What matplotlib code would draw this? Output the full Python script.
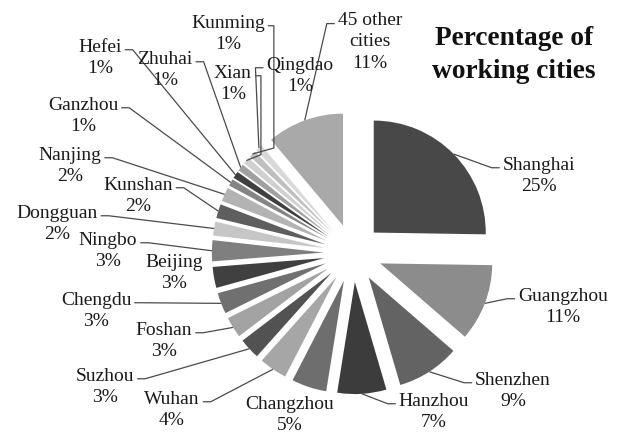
import numpy as np
import matplotlib
matplotlib.use("Agg")
import matplotlib.pyplot as plt

# ---- data ----
cities = ["Shanghai", "Guangzhou", "Shenzhen", "Hanzhou", "Changzhou", "Wuhan",
          "Suzhou", "Foshan", "Chengdu", "Beijing", "Ningbo", "Dongguan",
          "Kunshan", "Nanjing", "Ganzhou", "Hefei", "Zhuhai", "Xian",
          "Kunming", "Qingdao", "45 other\ncities"]
percent = [25, 11, 9, 7, 5, 4, 3, 3, 3, 3, 3, 2, 2, 2, 1, 1, 1, 1, 1, 1, 11]
title = "Percentage of\nworking cities"

# ---- styles / layout ----
colors = ["#484848", "#8c8c8c", "#636363", "#3c3c3c", "#6e6e6e", "#a6a6a6",
          "#525252", "#a3a3a3", "#707070", "#404040", "#7f7f7f", "#c6c6c6",
          "#5e5e5e", "#b3b3b3", "#858585", "#3f3f3f", "#a0a0a0", "#d0d0d0",
          "#c0c0c0", "#d9d9d9", "#a9a9a9"]
# label centres in pixel coordinates (x from left, y from top)
label_pos = [(539, 176), (563, 307), (513, 391), (434, 412), (290, 415),
             (172, 410), (105, 387), (164, 341), (96, 311), (174, 273),
             (108, 251), (57, 224), (138, 196), (70, 166), (83, 116),
             (100, 58), (165, 70), (233, 84), (228, 34), (300, 76), (370, 42)]
side = ["L", "L", "L", "L", None, "R", "R", "R", "R", None, "R", "R", "R", "R",
        "R", "R", "R", "V", "V", "L", "L"]

W, H = 619, 435
fig = plt.figure(figsize=(W / 100, H / 100), dpi=100)
ax = fig.add_axes([0, 0, 1, 1])
cx, cy, R = 353, H - 254, 112
explode_px = 0.26 * R

wedges, _ = ax.pie(percent, colors=colors, startangle=90, counterclock=False,
                   radius=R, center=(cx, cy), explode=[explode_px] * len(percent),
                   wedgeprops=dict(linewidth=0))
ax.set_xlim(0, W)
ax.set_ylim(0, H)
ax.set_aspect("equal")
ax.axis("off")

font = ["Liberation Serif", "DejaVu Serif"]
ax.text(514, H - 55, title, ha="center", va="center", fontsize=19.7,
        fontweight="bold", family=font, color="#111111", linespacing=1.42)

renderer = fig.canvas.get_renderer()
for i, (name, p) in enumerate(zip(cities, percent)):
    lx, ly = label_pos[i]
    txt = f"{name}\n{p}%"
    t = ax.text(lx, H - ly, txt, ha="center", va="center",
                fontsize=14, family=font, color="#1a1a1a", linespacing=1.32)
    if side[i] is None:
        continue
    w = wedges[i]
    mid = np.deg2rad((w.theta1 + w.theta2) / 2)
    wcx, wcy = w.center
    ax_, ay_ = wcx + R * np.cos(mid), wcy + R * np.sin(mid)
    bb = t.get_window_extent(renderer)
    nlines = txt.count("\n") + 1
    lh = bb.height / nlines
    yatt = bb.y1 - lh * 0.62
    if side[i] == "L":
        x0 = bb.x0 - 3
        x1 = x0 - 8
        xs, ys = [x0, x1, ax_], [yatt, yatt, ay_]
    elif side[i] == "R":
        x0 = bb.x1 + 3
        x1 = x0 + 8
        xs, ys = [x0, x1, ax_], [yatt, yatt, ay_]
    else:
        x0 = bb.x1 + 3
        x1 = x0 + 6
        xs, ys = [x0, x1, x1, ax_], [yatt, yatt, ay_ + 6, ay_]
    ax.plot(xs, ys, color="#4a4a4a", lw=0.9, solid_capstyle="butt")

fig.savefig("out.png", dpi=100)
